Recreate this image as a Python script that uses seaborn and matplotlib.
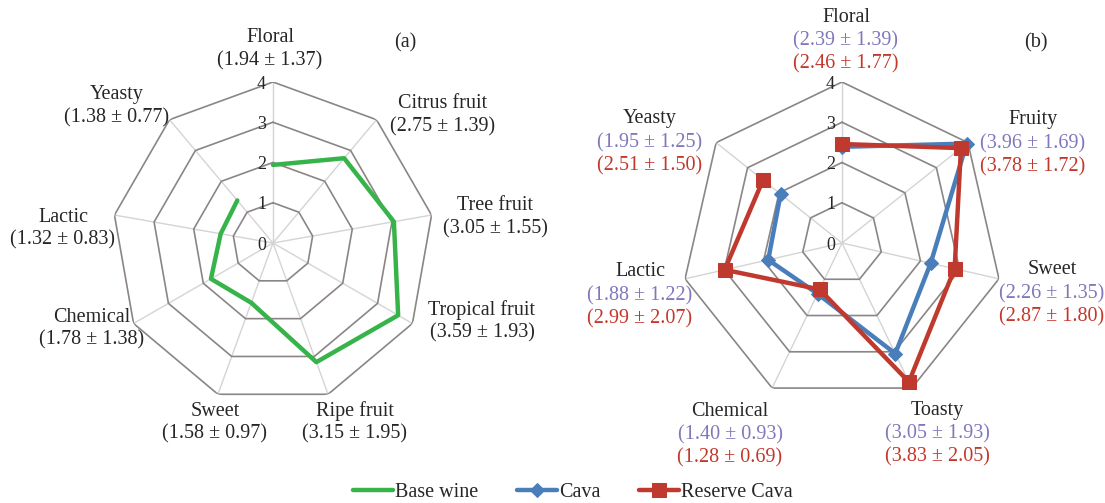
import numpy as np
import pandas as pd
import matplotlib
matplotlib.use("Agg")
import matplotlib.pyplot as plt
import seaborn as sns

# (a) base wine
attrs_a = ["Floral", "Citrus fruit", "Tree fruit", "Tropical fruit", "Ripe fruit",
           "Sweet", "Chemical", "Lactic", "Yeasty"]
base_mean = [1.94, 2.75, 3.05, 3.59, 3.15, 1.58, 1.78, 1.32, 1.38]
base_sd = [1.37, 1.39, 1.55, 1.93, 1.95, 0.97, 1.38, 0.83, 0.77]

# (b) cava / reserve cava
attrs_b = ["Floral", "Fruity", "Sweet", "Toasty", "Chemical", "Lactic", "Yeasty"]
cava_mean = [2.39, 3.96, 2.26, 3.05, 1.40, 1.88, 1.95]
cava_sd = [1.39, 1.69, 1.35, 1.93, 0.93, 1.22, 1.25]
res_mean = [2.46, 3.78, 2.87, 3.83, 1.28, 2.99, 2.51]
res_sd = [1.77, 1.72, 1.80, 2.05, 0.69, 2.07, 1.50]

ticks = [0, 1, 2, 3, 4]

sns.set_style("white")
plt.rcParams["font.family"] = ["Liberation Serif", "DejaVu Serif"]
FS = 14.5

W, H = 1105, 503
fig = plt.figure(figsize=(W / 100, H / 100), dpi=100)

green = "#36b44a"
blue = "#4a7ebb"
red = "#c0392f"
txt_blue = "#7f78bc"
txt_red = "#c4382c"


def px(x, y):
    return x / W, 1 - y / H


def radar_axes(cx, cy, n):
    r = 161
    ax = fig.add_axes([(cx - r) / W, (H - cy - r) / H, 2 * r / W, 2 * r / H], projection="polar")
    ax.set_theta_offset(np.pi / 2)
    ax.set_theta_direction(-1)
    ax.set_ylim(0, 4)
    ax.grid(False)
    ax.spines["polar"].set_visible(False)
    ax.set_xticks([])
    ax.set_yticks([])
    ax.patch.set_alpha(0)
    theta = np.linspace(0, 2 * np.pi, n, endpoint=False)
    tc = np.append(theta, theta[0])
    for t in theta:
        ax.plot([t, t], [0, 4], color="#d4d4d4", lw=1.0, zorder=1)
    for k in ticks[1:]:
        ax.plot(tc, [k] * (n + 1), color="#8c8585", lw=1.2, zorder=1)
    for k in ticks:
        ax.annotate(str(k), (0, k), xytext=(-5, -1.5), textcoords="offset points",
                    ha="right", va="center", fontsize=13)
    return ax, tc


# panel (a)
ax_a, tc_a = radar_axes(273, 243, len(attrs_a))
df_a = pd.DataFrame({"theta": tc_a, "value": base_mean + base_mean[:1]})
sns.lineplot(data=df_a, x="theta", y="value", sort=False, color=green, lw=3.2,
             ax=ax_a, label="Base wine", legend=False, clip_on=False, zorder=3)
ax_a.set_xlabel("")
ax_a.set_ylabel("")

# panel (b)
ax_b, tc_b = radar_axes(842, 243, len(attrs_b))
df_b = pd.DataFrame({"theta": tc_b,
                     "cava": cava_mean + cava_mean[:1],
                     "res": res_mean + res_mean[:1]})
sns.lineplot(data=df_b, x="theta", y="cava", sort=False, color=blue, lw=3.2,
             marker="D", markersize=7, markeredgecolor=blue, ax=ax_b,
             label="Cava", legend=False, clip_on=False, zorder=3)
sns.lineplot(data=df_b, x="theta", y="res", sort=False, color=red, lw=3.2,
             marker="s", markersize=10, markeredgecolor=red, ax=ax_b,
             label="Reserve Cava", legend=False, clip_on=False, zorder=4)
ax_b.set_xlabel("")
ax_b.set_ylabel("")

# label centres (pixels)
pos_a = [(270, 38), (443, 104), (495, 206), (482, 310), (355, 411),
         (215, 411), (92, 317), (63, 217), (117, 95)]
for name, m, s, (x, y) in zip(attrs_a, base_mean, base_sd, pos_a):
    fig.text(*px(x, y), name, ha="center", va="center", fontsize=FS)
    fig.text(*px(x, y + 23), f"({m:.2f} \u00b1 {s:.2f})", ha="center", va="center", fontsize=FS)

pos_b = [(846, 17), (1033, 120), (1052, 270), (937, 410), (730, 411), (640, 272), (650, 119)]
for name, m1, s1, m2, s2, (x, y) in zip(attrs_b, cava_mean, cava_sd, res_mean, res_sd, pos_b):
    fig.text(*px(x, y), name, ha="center", va="center", fontsize=FS)
    fig.text(*px(x, y + 24), f"({m1:.2f} \u00b1 {s1:.2f})", ha="center", va="center",
             color=txt_blue, fontsize=FS)
    fig.text(*px(x, y + 47), f"({m2:.2f} \u00b1 {s2:.2f})", ha="center", va="center",
             color=txt_red, fontsize=FS)

fig.text(*px(405, 43), "(a)", ha="center", va="center", fontsize=FS)
fig.text(*px(1036, 43), "(b)", ha="center", va="center", fontsize=FS)

handles = ax_a.get_lines()[-1:] + ax_b.get_lines()[-2:]
fig.legend(handles, ["Base wine", "Cava", "Reserve Cava"], loc="center left",
           bbox_to_anchor=(px(353, 492)), ncol=3, frameon=False, borderpad=0,
           borderaxespad=0, handlelength=2.0, handletextpad=0.1, columnspacing=1.9,
           fontsize=FS)

fig.savefig("out.png", dpi=100)
